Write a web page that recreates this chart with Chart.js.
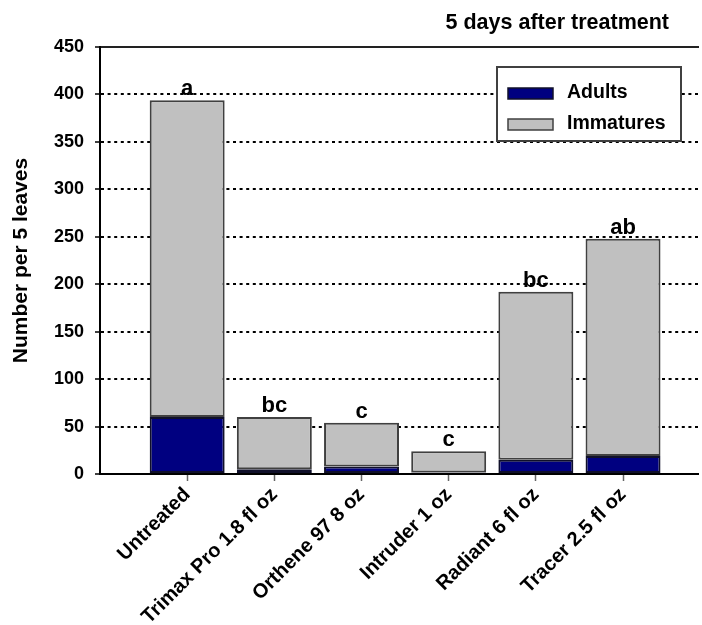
<!DOCTYPE html>
<html><head><meta charset="utf-8">
<script src="https://cdn.jsdelivr.net/npm/chart.js@4.4.0/dist/chart.umd.min.js"></script>
<style>html,body{margin:0;padding:0;background:#fff;} #wrap{width:702px;height:625px;}</style>
</head><body><div id="wrap"><canvas id="c" width="702" height="625"></canvas></div>
<script>
const categories = ['Untreated','Trimax Pro 1.8 fl oz','Orthene 97 8 oz','Intruder 1 oz','Radiant 6 fl oz','Tracer 2.5 fl oz'];
const adults = [60, 5, 8, 1.5, 15, 19];
const immatures = [334, 55, 46, 22.5, 177, 229];
const letters = ['a','bc','c','c','bc','ab'];
const yTicks = [0, 50, 100, 150, 200, 250, 300, 350, 400, 450];
const seriesNames = ['Adults', 'Immatures'];
const chartTitle = '5 days after treatment';
const yTitle = 'Number per 5 leaves';

const FONT = "'Liberation Sans', Arial, sans-serif";
Chart.defaults.font.family = FONT;
Chart.defaults.color = '#000';

const overlay = {
  id: 'overlay',
  afterDatasetsDraw(chart) {
    const ctx = chart.ctx, area = chart.chartArea;
    const meta = chart.getDatasetMeta(chart.data.datasets.length - 1);
    ctx.save();
    ctx.font = 'bold 22px ' + FONT;
    ctx.fillStyle = '#000';
    ctx.textAlign = 'center';
    ctx.textBaseline = 'alphabetic';
    meta.data.forEach((bar, i) => ctx.fillText(letters[i], bar.x, bar.y - 5));
    // legend
    const bl = area.right - 201, bt = area.top + 20, bw = 184, bh = 74;
    ctx.fillStyle = '#fff';
    ctx.fillRect(bl, bt, bw, bh);
    ctx.strokeStyle = '#404040';
    ctx.lineWidth = 2;
    ctx.strokeRect(bl, bt, bw, bh);
    ctx.font = 'bold 19.5px ' + FONT;
    ctx.textAlign = 'left';
    ctx.textBaseline = 'middle';
    chart.data.datasets.forEach((ds, k) => {
      const sy = bt + 21 + k * 31;
      ctx.fillStyle = ds.backgroundColor;
      ctx.fillRect(bl + 11, sy, 45, 11);
      ctx.strokeStyle = ds.borderColor;
      ctx.lineWidth = 1.5;
      ctx.strokeRect(bl + 11, sy, 45, 11);
      ctx.fillStyle = '#000';
      ctx.fillText(ds.label, bl + 70, sy + 5);
    });
    ctx.restore();
  },
  afterDraw(chart) {
    const ctx = chart.ctx, area = chart.chartArea;
    ctx.save();
    ctx.font = 'bold 21.5px ' + FONT;
    ctx.fillStyle = '#000';
    ctx.textAlign = 'right';
    ctx.textBaseline = 'alphabetic';
    ctx.fillText(chartTitle, area.right - 29, 29);
    ctx.restore();
  }
};

new Chart(document.getElementById('c'), {
  type: 'bar',
  data: {
    datasets: [
      { label: seriesNames[0], data: adults.map((v, i) => ({x: i, y: v})),
        backgroundColor: '#000080', borderColor: '#10102a', borderWidth: 2, borderSkipped: false },
      { label: seriesNames[1], data: immatures.map((v, i) => ({x: i, y: v})),
        backgroundColor: '#c0c0c0', borderColor: '#404040', borderWidth: 2, borderSkipped: false }
    ]
  },
  options: {
    responsive: false,
    animation: false,
    events: [],
    categoryPercentage: 0.86,
    barPercentage: 1,
    layout: { padding: { left: 0, right: 4, top: 47, bottom: 0 } },
    plugins: { legend: { display: false }, tooltip: { enabled: false }, title: { display: false } },
    scales: {
      x: {
        type: 'linear', stacked: true, min: -1, max: 5.86, offset: false,
        afterBuildTicks: (s) => { s.ticks = categories.map((c, i) => ({value: i})); },
        afterFit: (s) => { s.height = 151; },
        ticks: { autoSkip: false, minRotation: 45, maxRotation: 45, padding: 2,
          font: { size: 20, weight: 'bold' }, color: '#000',
          callback: (v) => categories[v] ?? '' },
        grid: { display: true, offset: false, drawOnChartArea: false, drawTicks: true, tickLength: 7, tickColor: '#666', tickWidth: 1.5 },
        border: { display: true, color: '#000', width: 2 }
      },
      xTop: {
        type: 'linear', position: 'top', axis: 'x', min: -1, max: 5.86, offset: false,
        afterFit: (s) => { s.height = 0; },
        ticks: { display: false },
        grid: { display: false, drawTicks: false },
        border: { display: true, color: '#222', width: 2 }
      },
      y: {
        stacked: true, min: 0, max: 450,
        afterBuildTicks: (s) => { s.ticks = yTicks.map(v => ({value: v})); },
        afterFit: (s) => { s.width = 100; },
        ticks: { padding: 11, font: { size: 18, weight: 'bold' }, color: '#000' },
        grid: { color: (c) => c.tick && c.tick.value === 450 ? 'rgba(0,0,0,0)' : '#000', lineWidth: 2,
          drawTicks: true, tickLength: 5, tickColor: '#000', tickWidth: 1.5, tickBorderDash: [] },
        border: { display: true, color: '#000', width: 2, dash: [3, 3.6] },
        title: { display: true, text: yTitle, font: { size: 21, weight: 'bold' }, color: '#000', padding: { top: 9, bottom: 0 } }
      }
    }
  },
  plugins: [overlay]
});
</script>
</body></html>
